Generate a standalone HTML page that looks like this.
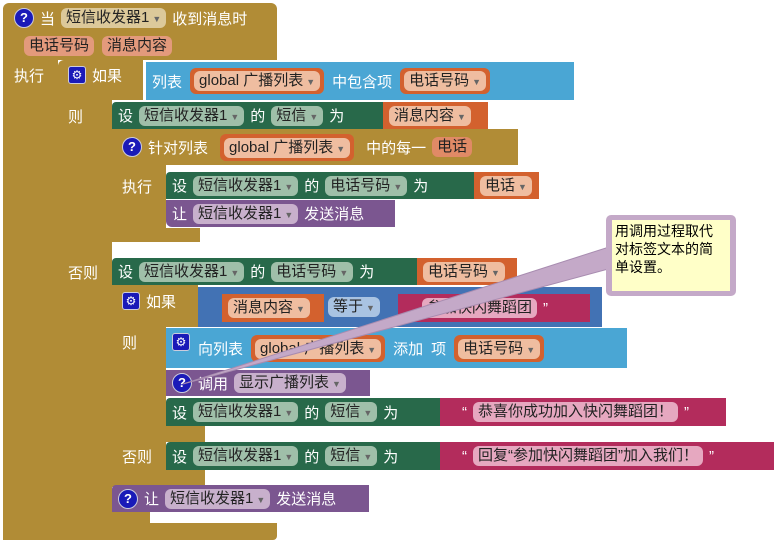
<!DOCTYPE html>
<html><head><meta charset="utf-8"><style>
body{margin:0;width:777px;height:545px;background:#fff;position:relative;overflow:hidden;font-family:"Liberation Sans","Noto Sans CJK SC",sans-serif;font-size:15px;color:#fff}
.b{position:absolute;box-sizing:border-box}
.r{position:absolute;box-sizing:border-box;display:flex;align-items:center;gap:6px;padding:0 6px;white-space:nowrap;border-radius:4px}
.p{display:inline-block;border-radius:6px;padding:0 5px;line-height:20px;height:20px;color:#222}
.t{position:absolute;white-space:nowrap}
.gold{background:#b18c36}
.green{background:#28694a}
.purple{background:#7b5690}
.lb{background:#4aa6d4}
.or{background:#d3612e}
.mag{background:#b32c5c}
.cb{background:#4272b4}
.pg{background:#9fbfa9}
.pp{background:#c8b0cc}
.po{background:#efbda0}
.pm{background:#e6a8c0}
.pgd{background:#dcc99a}
.pb{background:#a9c3e2}
.q{display:inline-block;width:18px;height:18px;border-radius:50%;background:#1a1ab8;color:#fff;font-weight:bold;text-align:center;line-height:18px;font-size:13px;border:1px solid #ccd}
.g{display:inline-block;width:16px;height:16px;background:#1a1ab8;border-radius:3px;color:#fff;text-align:center;line-height:16px;font-size:12px;border:1px solid #ccd}
.v{font-size:9px;color:#666;margin-left:3px}
</style></head><body>
<div class="b gold" style="left:3px;top:3px;width:274px;height:57px;border-radius:6px 6px 0 0"></div>
<div class="b gold" style="left:3px;top:58px;width:55px;height:482px"></div>
<div class="b gold" style="left:3px;top:523px;width:274px;height:17px;border-radius:0 0 4px 4px"></div>
<div class="r" style="left:8px;top:6px;height:24px"><span class="q">?</span><span>当</span><span class="p pgd">短信收发器1<span class="v">▼</span></span><span>收到消息时</span></div>
<div class="r" style="left:18px;top:35px;height:22px;gap:8px"><span class="p po" style="background:#e39a7c">电话号码</span><span class="p po" style="background:#e39a7c">消息内容</span></div>
<div class="t" style="left:14px;top:65px">执行</div>
<div class="b gold" style="left:58px;top:60px;width:85px;height:40px;border-radius:6px 0 0 0"></div>
<div class="b gold" style="left:58px;top:98px;width:54px;height:428px"></div>
<div class="b gold" style="left:58px;top:508px;width:92px;height:18px"></div>
<div class="r" style="left:62px;top:63px;height:24px"><span class="g">⚙</span><span>如果</span></div>
<div class="r lb" style="left:146px;top:62px;width:428px;height:38px;gap:8px;border-radius:0"><span>列表</span><span class="p or" style="height:26px;line-height:26px;padding:0 4px"><span class="p po">global 广播列表<span class="v">▼</span></span></span><span>中包含项</span><span class="p or" style="height:26px;line-height:26px;padding:0 4px"><span class="p po">电话号码<span class="v">▼</span></span></span></div>
<div class="t" style="left:68px;top:106px">则</div>
<div class="r green" style="left:112px;top:102px;width:376px;height:27px;border-radius:4px 0 0 0"><span>设</span><span class="p pg">短信收发器1<span class="v">▼</span></span><span>的</span><span class="p pg">短信<span class="v">▼</span></span><span>为</span></div>
<div class="r or" style="left:383px;top:102px;width:105px;height:27px;border-radius:0"><span class="p po">消息内容<span class="v">▼</span></span></div>
<div class="b gold" style="left:112px;top:129px;width:406px;height:36px"></div>
<div class="b gold" style="left:112px;top:164px;width:54px;height:78px"></div>
<div class="b gold" style="left:112px;top:228px;width:88px;height:14px"></div>
<div class="r" style="left:116px;top:134px;height:26px"><span class="q">?</span><span>针对列表</span><span class="p or" style="height:27px;line-height:27px;padding:0 4px;margin-left:6px"><span class="p po">global 广播列表<span class="v">▼</span></span></span><span style="margin-left:6px">中的每一</span><span class="p" style="background:#e08a66">电话</span></div>
<div class="t" style="left:122px;top:176px">执行</div>
<div class="r green" style="left:166px;top:172px;width:372px;height:27px;border-radius:4px 0 0 0"><span>设</span><span class="p pg">短信收发器1<span class="v">▼</span></span><span>的</span><span class="p pg">电话号码<span class="v">▼</span></span><span>为</span></div>
<div class="r or" style="left:474px;top:172px;width:65px;height:27px;border-radius:0"><span class="p po">电话<span class="v">▼</span></span></div>
<div class="r purple" style="left:166px;top:200px;width:229px;height:27px;border-radius:0 0 0 6px"><span>让</span><span class="p pp">短信收发器1<span class="v">▼</span></span><span>发送消息</span></div>
<div class="t" style="left:68px;top:262px">否则</div>
<div class="r green" style="left:112px;top:258px;width:310px;height:27px;border-radius:4px 0 0 0"><span>设</span><span class="p pg">短信收发器1<span class="v">▼</span></span><span>的</span><span class="p pg">电话号码<span class="v">▼</span></span><span>为</span></div>
<div class="r or" style="left:417px;top:258px;width:100px;height:27px;border-radius:0"><span class="p po">电话号码<span class="v">▼</span></span></div>
<div class="b gold" style="left:112px;top:285px;width:86px;height:42px"></div>
<div class="b gold" style="left:112px;top:325px;width:54px;height:162px"></div>
<div class="b gold" style="left:112px;top:425px;width:93px;height:17px"></div>
<div class="b gold" style="left:112px;top:468px;width:93px;height:18px"></div>
<div class="r" style="left:116px;top:290px;height:22px"><span class="g">⚙</span><span>如果</span></div>
<div class="b cb" style="left:198px;top:287px;width:404px;height:40px"></div>
<div class="r or" style="left:222px;top:294px;width:102px;height:28px;border-radius:0"><span class="p po">消息内容<span class="v">▼</span></span></div>
<span class="p pb" style="position:absolute;left:328px;top:297px">等于<span class="v">▼</span></span>
<div class="r mag" style="left:398px;top:294px;width:192px;height:28px;border-radius:0"><span style="margin-left:18px" class="p pm">参加快闪舞蹈团</span><span>”</span></div>
<div class="t" style="left:122px;top:332px">则</div>
<div class="r lb" style="left:166px;top:328px;width:461px;height:40px;gap:8px;border-radius:0"><span class="g" style="margin-top:-12px">⚙</span><span>向列表</span><span class="p or" style="height:27px;line-height:27px;padding:0 4px"><span class="p po">global 广播列表<span class="v">▼</span></span></span><span>添加</span><span>项</span><span class="p or" style="height:27px;line-height:27px;padding:0 4px"><span class="p po">电话号码<span class="v">▼</span></span></span></div>
<div class="r purple" style="left:166px;top:370px;width:204px;height:26px;border-radius:0"><span class="q">?</span><span>调用</span><span class="p pp">显示广播列表<span class="v">▼</span></span></div>
<div class="r green" style="left:166px;top:398px;width:275px;height:28px;border-radius:4px 0 0 0"><span>设</span><span class="p pg">短信收发器1<span class="v">▼</span></span><span>的</span><span class="p pg">短信<span class="v">▼</span></span><span>为</span></div>
<div class="r mag" style="left:440px;top:398px;width:286px;height:28px;border-radius:0"><span style="margin-left:16px">“</span><span class="p pm">恭喜你成功加入快闪舞蹈团！</span><span>”</span></div>
<div class="t" style="left:122px;top:446px">否则</div>
<div class="r green" style="left:166px;top:442px;width:275px;height:28px;border-radius:4px 0 0 0"><span>设</span><span class="p pg">短信收发器1<span class="v">▼</span></span><span>的</span><span class="p pg">短信<span class="v">▼</span></span><span>为</span></div>
<div class="r mag" style="left:440px;top:442px;width:334px;height:28px;border-radius:0"><span style="margin-left:16px">“</span><span class="p pm">回复“参加快闪舞蹈团”加入我们！</span><span>”</span></div>
<div class="r purple" style="left:112px;top:485px;width:257px;height:27px;border-radius:4px 0 0 0"><span class="q">?</span><span>让</span><span class="p pp">短信收发器1<span class="v">▼</span></span><span>发送消息</span></div>
<svg class="b" style="left:0;top:0" width="777" height="545"><polygon points="183,384 612,246 612,268" fill="#c4a9c8" stroke="#a88cb0" stroke-width="1"/></svg>
<div class="b" style="left:606px;top:215px;width:130px;height:81px;background:#c4a9c8;border-radius:5px"></div>
<div class="b" style="left:612px;top:220px;width:118px;height:71px;background:#ffffc8;color:#000;font-size:14px;line-height:18px;padding:2px 14px 2px 3px">用调用过程取代对标签文本的简单设置。</div>
</body></html>
